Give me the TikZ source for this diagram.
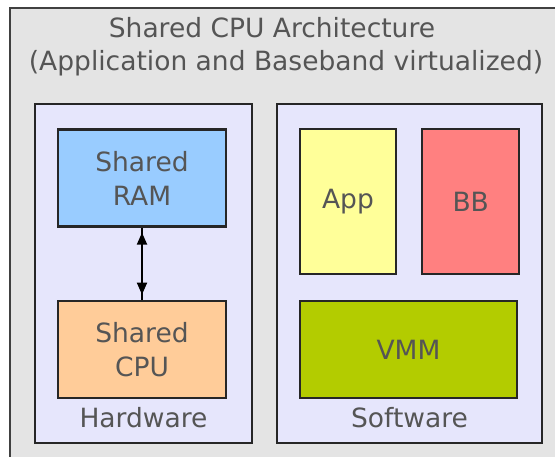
\documentclass[tikz,border=0pt]{standalone}
\usepackage{fontspec}
\setmainfont{DejaVu Sans}
\usetikzlibrary{positioning, arrows.meta}

\definecolor{framegray}{HTML}{E4E4E4}
\definecolor{panelblue}{HTML}{E6E6FC}
\definecolor{ramblue}{HTML}{99CCFF}
\definecolor{cpuorange}{HTML}{FFCC99}
\definecolor{appyellow}{HTML}{FFFF99}
\definecolor{bbred}{HTML}{FF8080}
\definecolor{vmmgreen}{HTML}{B3CC00}
\definecolor{inkgray}{HTML}{555555}

\tikzset{
  block/.style={draw=black!85, line width=2.2pt, fill=#1, minimum width=168pt,
    minimum height=97pt, inner sep=0pt, align=center, text=inkgray},
  panel/.style={draw=black!85, line width=2.2pt, fill=panelblue,
    minimum height=339pt, inner sep=0pt},
  caption/.style={text=inkgray, inner sep=0pt, anchor=base}
}

\begin{document}
\begin{tikzpicture}[x=1pt,y=-1pt,font=\fontsize{26.5}{34}\selectfont,
                    >={Triangle[length=12pt,width=10pt]}]

    \path[use as bounding box] (0,0) rectangle (555,457);
    \clip (0,0) rectangle (555,457);
    \draw[line width=2.5pt, draw=black!75, fill=framegray] (10,8) rectangle (580,480);

    \node[caption] (title) at (272,38) {Shared CPU Architecture};
    \node[caption] (subtitle) at (286,71) {(Application and Baseband virtualized)};

    % hardware side
    \node[panel, minimum width=217pt] (hw) at (143.5,273.5) {};
    \node[block=ramblue] (ram) at (142,178) {Shared\\RAM};
    \node[block=cpuorange, below=72pt of ram] (cpu) {Shared\\CPU};
    \node[caption] (hwlabel) at (143.5,428) {Hardware};

    % software side
    \node[panel, minimum width=265pt] (sw) at (409.5,273.5) {};
    \node[block=appyellow, minimum width=96pt, minimum height=145pt] (app) at (348,201.5) {App};
    \node[block=bbred, minimum width=97pt, minimum height=145pt, right=24pt of app] (bb) {BB};
    \node[block=vmmgreen, minimum width=217pt, below=25pt of app.south west, anchor=north west] (vmm) {VMM};
    \node[caption] (swlabel) at (409.5,428) {Software};

    \draw[line width=2pt] (ram) -- (cpu);
    \draw[line width=2pt, <->, shorten <=5pt, shorten >=5pt] (ram) -- (cpu);

\end{tikzpicture}
\end{document}
